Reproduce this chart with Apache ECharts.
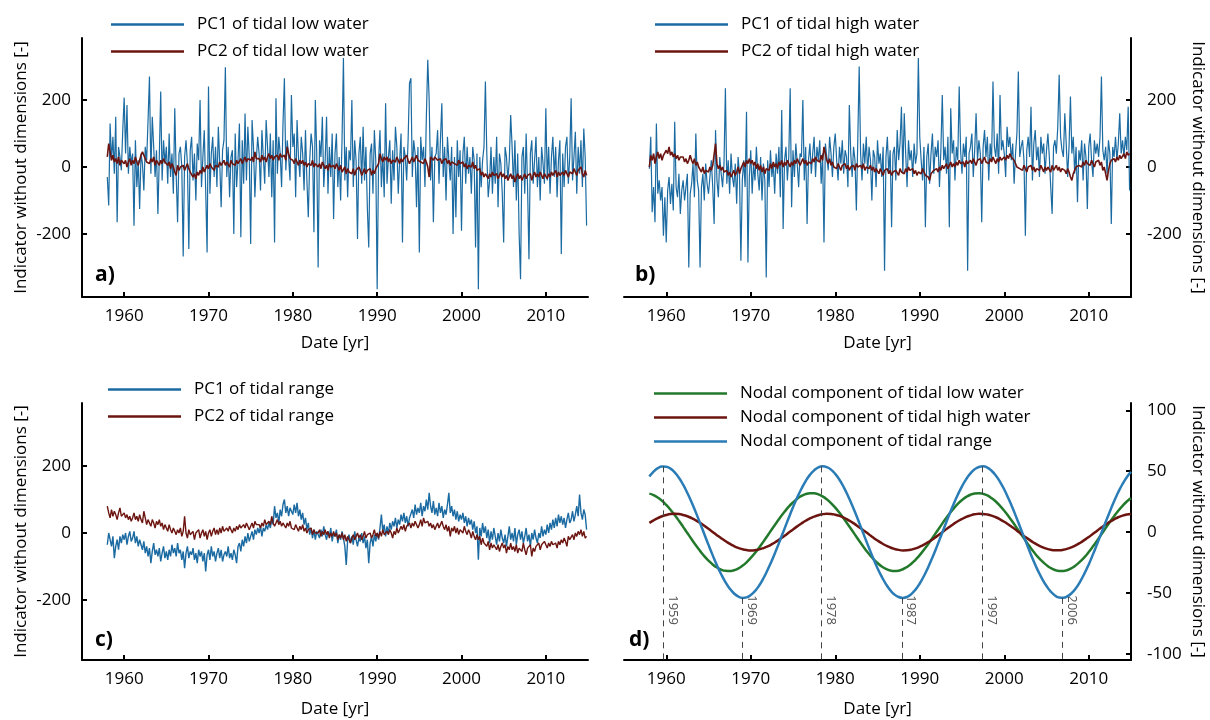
<!DOCTYPE html>
<html><head><meta charset="utf-8">
<script src="https://cdn.jsdelivr.net/npm/echarts@6/dist/echarts.min.js"></script>
<style>html,body{margin:0;padding:0;background:#fff}#c{width:1210px;height:720px}</style>
</head><body><div id="c"></div>
<script>
// ---- time grid of the monthly-like series (6 samples / year from 1958) ----
const START_YEAR = 1958;
const PER_YEAR = 6;

// a) tidal low water
const lowPC1 = [
 -30,-115,130,20,90,-20, 150,-165,60,30,-10,110, 207,40,185,-20,60,10, 40,-175,80,-60,20,-125,
 40,10,-70,60,20,140, 270,-20,150,60,-30,50, -140,30,225,-40,80,10, 60,-50,100,-30,40,-80,
 175,-20,-165,40,60,0, -267,30,80,10,-245,50, 90,-40,40,-100,70,20, 200,-60,30,110,-70,-255,
 240,-80,40,90,-30,60, -60,120,10,-120,50,80, 298,-30,60,-90,30,50, -200,100,-60,20,130,-210,
 80,-50,160,-40,120,30, -230,140,60,-90,20,90, 40,-70,110,30,-50,140, 60,-30,100,-90,80,-225,
 205,-20,90,40,-60,130, 265,-10,80,30,-40,215, 60,100,-90,140,30,-30, 90,40,-70,110,-40,-150,
 20,100,60,-195,200,40, -300,80,30,150,-60,20, 150,-80,60,-30,100,-155, 40,100,-60,30,-100,80,
 325,-40,60,-90,50,20, 200,-60,80,20,-215,40, 90,-50,120,-40,60,-120, -240,40,70,-80,110,20,
 -365,20,110,-60,40,-90, 190,-50,30,80,-110,50, -40,120,60,-80,20,100, -225,60,30,-40,80,250,
 265,-30,80,40,-120,60, -255,90,20,60,-60,150, 320,200,-40,60,-165,30, 40,110,-50,80,190,-30,
 60,-100,90,20,-40,60, -200,30,-150,80,-30,50, -190,40,90,-50,60,-20, 30,-80,60,20,-240,40,
 -365,30,-60,20,60,255, 40,-90,-40,60,-80,30, -50,90,-120,40,10,-80, -225,60,30,-40,20,155,
 60,-60,80,-100,40,-200, -335,30,60,-80,100,-60, -275,40,80,-50,20,90, -60,30,-100,60,10,-50,
 175,-40,60,-80,30,90, -30,60,-90,20,80,-260, 40,-60,60,90,-50,30, 205,-40,30,105,-80,60,
 -20,80,-60,115,30,-175
];
const lowPC2 = [
 30,70,45,20,35,15, 25,10,30,5,20,15, 10,20,0,15,25,5, 20,10,30,15,5,20,
 35,45,40,25,15,20, 10,25,15,30,5,20, 15,5,20,10,25,15, 20,5,15,-5,10,0,
 -15,-25,5,-10,0,-5, 5,-10,0,10,-5,-15, -10,-30,-20,-35,-15,-25, -10,-20,0,-15,-5,5,
 -5,10,0,5,-10,5, 10,0,15,5,10,20, 5,15,10,0,20,10, 15,5,20,10,15,25,
 10,20,30,15,25,20, 20,30,15,45,25,20, 25,15,35,20,30,15, 30,40,25,35,20,30,
 25,35,20,40,30,25, 35,20,60,40,25,30, 20,10,25,15,5,20, 10,20,5,15,0,10,
 15,5,20,0,10,5, 0,10,-5,15,5,-5, 5,-10,10,0,-5,5, -5,10,0,-10,5,-15,
 -10,0,-20,-5,-15,-10, -20,-5,-25,-10,-15,0, -10,-25,-15,-5,-20,-10, -15,-5,-25,-10,-20,-5,
 -10,10,40,25,15,30, 20,30,15,25,10,20, 25,15,30,20,10,25, 15,25,20,35,20,10,
 20,30,15,25,35,20, 25,15,20,10,25,15, 0,-30,30,25,20,30, 25,20,15,25,10,20,
 15,25,10,20,5,15, 20,10,15,5,20,10, 5,15,0,10,-5,5, 10,0,15,-5,5,-10,
 -15,-5,-25,-15,-30,-20, -25,-35,-20,-30,-15,-25, -30,-20,-35,-25,-15,-30, -20,-35,-25,-40,-30,-20,
 -35,-25,-45,-30,-20,-35, -25,-40,-30,-20,-35,-25, -30,-20,-40,-25,-15,-30, -20,-30,-15,-25,-35,-20,
 -25,-35,-20,-30,-15,-25, -20,-10,-30,-15,-25,-20, -15,-25,-10,-20,-30,-15, -10,-20,-5,-15,-25,-10,
 -15,0,-20,-30,-10,-25
];

// b) tidal high water
const highPC1 = [
 -5,90,-135,-60,-165,130, -80,-40,-100,-60,-205,-90, -225,-70,-30,-110,-50,-130, 135,-60,-90,-20,-140,-70,
 -40,-100,-60,-20,-300,-80, -50,10,-90,100,-40,-70, -300,-60,-20,-100,10,-50, -80,-30,20,-60,-170,110,
 -40,-90,30,-20,-60,10, 235,-50,20,-80,40,-30, -60,10,-110,30,-20,-280, -40,20,-60,165,-285,-30,
 50,-80,10,-40,60,-20, -70,30,-100,10,-40,-330, 20,-60,50,-30,10,-80, 40,-20,60,-90,170,-185,
 20,60,-40,30,235,-120, 50,-30,70,10,-60,40, 30,200,-40,60,-170,20, 70,-20,40,90,-30,60,
 20,80,-50,40,-225,70, 30,-10,90,40,-30,60, 100,20,-40,60,10,80, -20,50,30,-60,185,40,
 -30,60,20,-130,80,300, 40,-40,70,10,90,-20, 60,20,-100,50,30,-60, 80,10,40,-30,60,-310,
 30,90,-20,50,-180,40, 60,-40,110,20,70,180, -20,160,40,-60,80,20, 50,-30,70,10,40,325,
 90,20,-40,60,-180,30, 70,-50,40,100,-20,60, 30,80,-60,50,215,20, 60,-20,90,-180,175,40,
 80,-40,60,20,240,50, -20,70,30,90,-310,40, 60,100,-30,50,160,20, 80,40,-165,60,110,30,
 90,-40,70,20,255,60, 30,100,-20,215,50,80, 40,-30,120,60,90,20, 70,-50,40,100,285,30,
 60,80,20,-205,50,90, 30,180,-40,70,110,20, 60,-30,90,40,70,-20, 50,100,30,-60,-140,60,
 80,40,120,275,90,50, 30,160,70,-30,60,210, 40,90,-20,60,-105,50, 20,80,-40,70,30,-125,
 60,100,20,-30,80,40, 70,30,90,270,50,20, 60,-20,80,40,-170,60, 30,90,20,70,160,40,
 80,30,90,50,180,-70
];
const highPC2 = [
 0,35,20,40,10,30, 45,25,40,20,35,30, 50,40,60,35,45,30, 40,25,35,20,30,25,
 30,15,25,10,20,35, 20,10,25,5,15,0, -5,-15,0,-20,-10,-5, -15,0,-10,5,10,70,
 10,-5,5,-10,0,-15, -20,-10,-25,-15,-30,-20, -10,-25,-15,0,-20,-5, 5,15,0,20,10,25,
 10,20,5,15,-5,10, -10,5,-15,0,-20,-5, 0,-10,10,-5,15,0, 10,-5,15,5,20,0,
 15,5,20,10,0,15, 5,20,10,25,15,5, 15,25,10,20,5,15, 20,10,25,15,30,20,
 25,15,35,20,60,40, 20,10,25,5,15,0, 5,-5,10,0,-10,5, 0,10,-5,5,-10,0,
 -5,5,-10,10,0,-5, 5,-5,10,-10,0,5, -5,5,-10,0,-15,-5, -10,-20,-5,-15,-25,-10,
 -15,-5,-20,-10,-25,-15, -20,-10,-15,-25,-5,-15, -10,-20,-5,-15,0,-10, -15,-5,-20,-10,-25,-15,
 -10,-20,-5,-15,-25,-20, -30,-40,-20,-25,-10,-15, -5,-15,0,-10,5,-5, 0,10,-5,5,15,0,
 10,0,15,5,20,10, 5,15,0,20,10,15, 20,10,25,15,5,20, 15,25,10,20,30,15,
 20,10,25,15,30,20, 10,25,15,30,20,25, 30,20,35,25,40,30, 35,20,10,0,5,-5,
 0,-10,5,-5,-15,0, -5,5,-10,0,-15,-5, 0,-10,5,-5,-15,0, -10,0,-5,-15,5,-10,
 -5,5,-10,0,-15,-5, 0,-10,-20,-5,-15,-30, -40,-20,-10,0,-5,5, 10,0,15,5,20,10,
 15,5,20,10,0,15, 10,20,5,15,-10,0, -20,-40,-10,10,20,15, 25,15,30,20,35,25,
 30,40,25,45,35,40
];

// c) tidal range
const rangePC1 = [
 -35,0,-20,-40,-10,-75, -40,-20,-50,-10,-30,-5, -20,0,-35,-10,5,-25, -15,5,-30,-10,-40,-20,
 -35,-50,-25,-60,-40,-70, -45,-90,-55,-30,-65,-50, -70,-45,-85,-60,-40,-75, -55,-80,-50,-70,-35,-60,
 -45,-70,-30,-60,-50,-80, -55,-105,-60,-40,-75,-55, -65,-45,-80,-60,-90,-50, -70,-55,-85,-60,-115,-65,
 -50,-80,-40,-70,-55,-85, -60,-45,-75,-50,-85,-65, -55,-70,-40,-75,-60,-80, -50,-65,-90,-40,-30,-55,
 -20,-40,-10,-30,0,-25, -10,5,-20,10,-5,15, 0,20,-10,15,5,25, 10,30,15,40,25,80,
 45,60,30,70,50,85, 100,60,80,50,75,65, 55,85,60,90,50,70, 40,60,25,45,10,30,
 -5,15,-15,10,-20,5, 0,-15,10,-10,20,-5, -20,5,-10,15,-25,0, -10,10,-30,-5,-20,5,
 -15,-40,-95,-20,-5,-30, -10,-35,5,-20,-40,-15, -25,0,-30,-10,-45,-20, -90,-30,-10,-40,-5,-25,
 0,-20,15,55,5,25, -10,20,0,30,10,35, 20,45,15,40,25,55, 35,60,30,50,20,45,
 40,70,45,85,55,75, 60,90,50,80,65,100, 70,120,80,60,95,55, 75,50,90,60,80,45,
 70,55,85,120,60,80, 50,70,40,65,35,55, 40,60,30,50,20,45, 25,40,10,35,0,20,
 -80,15,-10,30,0,20, -15,10,-30,5,-20,15, -10,-35,0,-25,10,-15, -30,-5,-40,-10,20,-20,
 0,-25,15,-35,-5,10, -20,5,-30,-10,15,-25, -5,-40,0,-20,10,-15, -30,0,-15,20,-10,10,
 -5,25,0,30,10,40, 15,45,20,55,30,50, 25,45,15,40,60,30, 40,65,35,55,80,50,
 115,60,40,70,55,10
];
const rangePC2 = [
 80,60,45,70,50,65, 55,40,60,75,50,45, 60,45,55,40,50,35, 45,60,40,50,35,55,
 40,30,65,45,25,40, 35,20,40,30,15,35, 25,40,20,30,10,25, 20,5,25,10,0,15,
 5,-5,10,0,15,-10, 5,50,0,-15,10,-5, -10,5,-20,0,-5,10, -15,0,10,-10,5,-20,
 0,10,-10,5,15,-5, 10,-5,15,0,20,5, 0,15,5,20,10,0, 15,5,20,10,25,15,
 10,25,15,30,20,10, 20,30,15,35,25,20, 25,15,30,20,40,25, 20,35,25,50,30,20,
 30,40,25,35,20,30, 25,15,30,20,35,15, 20,10,25,15,5,20, 10,25,5,15,0,10,
 5,15,-5,10,0,5, 0,10,-10,5,-5,10, -5,5,-15,0,-10,5, -10,0,-20,-5,-15,0,
 -20,-5,-25,-10,-15,-30, -15,-5,-20,-10,0,-15, -5,-20,-10,5,-15,-5, -10,0,-15,-5,10,-10,
 0,-15,5,-10,10,-5, -10,5,-5,10,0,-15, 5,-5,15,0,10,20, 10,25,5,20,15,30,
 15,30,20,35,25,15, 25,40,20,45,30,25, 35,20,30,15,25,10, 20,30,15,25,35,20,
 10,25,5,20,-10,15, 5,20,0,15,-5,10, 15,0,20,5,-5,10, 0,-15,5,-10,-20,-5,
 -20,-10,-35,-15,-30,-25, -40,-25,-50,-30,-45,-35, -30,-50,-35,-55,-40,-30, -45,-35,-60,-40,-50,-30,
 -50,-40,-55,-35,-60,-45, -40,-55,-30,-50,-65,-45, -50,-35,-70,-45,-55,-40, -45,-30,-50,-35,-40,-25,
 -35,-45,-30,-40,-25,-35, -40,-30,-45,-25,-35,-20, -30,-15,-25,-40,-10,-20, -15,-5,-20,0,-10,5,
 -5,10,-10,5,-15,-10
];

// d) nodal components, half-yearly readings 1958.0 .. 2015.0
const NODAL_START = 1958;
const NODAL_STEP = 0.5;
const nodalLow = [
 31.6,30.4,28.4,25.7,22.3,18.4,14.0,9.3,4.3,-0.8,-5.8,-10.8,-15.4,-19.7,-23.4,-26.6,-29.1,-30.8,-31.8,-32.0,
 -31.3,-29.9,-27.7,-24.8,-21.2,-17.2,-12.7,-7.8,-2.8,2.3,7.3,12.2,16.7,20.9,24.4,27.4,29.7,31.2,31.9,31.9,
 31.0,29.3,26.9,23.8,20.1,15.9,11.2,6.3,1.3,-3.8,-8.8,-13.6,-18.0,-22.0,-25.4,-28.2,-30.2,-31.5,-32.0,-31.7,
 -30.5,-28.6,-26.0,-22.7,-18.9,-14.5,-9.8,-4.8,0.3,5.3,10.3,15.0,19.3,23.1,26.3,28.9,30.7,31.7,32.0,31.4,
 30.1,27.9,25.1,21.6,17.6,13.1,8.3,3.3,-1.8,-6.8,-11.7,-16.3,-20.5,-24.1,-27.1,-29.5,-31.1,-31.9,-31.9,-31.1,
 -29.5,-27.1,-24.1,-20.5,-16.3,-11.7,-6.8,-1.8,3.3,8.3,13.1,17.6,21.6,25.1,27.9
];
const nodalHigh = [
 7.6,9.7,11.5,13.0,14.1,14.8,15.0,14.8,14.1,13.0,11.5,9.7,7.6,5.2,2.7,0.1,-2.5,-5.0,-7.3,-9.5,
 -11.4,-12.9,-14.0,-14.7,-15.0,-14.8,-14.2,-13.1,-11.7,-9.9,-7.8,-5.5,-3.0,-0.4,2.2,4.7,7.1,9.3,11.2,12.7,
 13.9,14.7,15.0,14.9,14.3,13.3,11.9,10.1,8.0,5.7,3.2,0.7,-1.9,-4.5,-6.9,-9.1,-11.0,-12.6,-13.8,-14.6,
 -15.0,-14.9,-14.4,-13.4,-12.0,-10.3,-8.2,-6.0,-3.5,-0.9,1.7,4.2,6.7,8.9,10.8,12.5,13.7,14.6,15.0,14.9,
 14.4,13.5,12.2,10.5,8.5,6.2,3.7,1.2,-1.4,-4.0,-6.4,-8.7,-10.7,-12.3,-13.6,-14.5,-14.9,-14.9,-14.5,-13.6,
 -12.3,-10.7,-8.7,-6.4,-4.0,-1.4,1.2,3.7,6.2,8.5,10.5,12.2,13.5,14.4,14.9
];
const nodalRange = [
 45.6,49.7,52.5,53.9,53.7,52.1,49.0,44.6,38.9,32.1,24.5,16.2,7.4,-1.6,-10.5,-19.1,-27.3,-34.6,-41.0,-46.3,
 -50.2,-52.8,-54.0,-53.6,-51.7,-48.4,-43.8,-37.9,-30.9,-23.3,-14.9,-6.1,2.9,11.8,20.4,28.4,35.6,41.9,47.0,50.7,
 53.1,54.0,53.4,51.3,47.8,43.0,37.0,29.9,22.1,13.6,4.7,-4.3,-13.1,-21.6,-29.6,-36.6,-42.7,-47.6,-51.2,-53.3,
 -54.0,-53.2,-50.9,-47.2,-42.2,-36.0,-28.8,-20.8,-12.3,-3.4,5.6,14.4,22.9,30.7,37.6,43.5,48.2,51.6,53.5,54.0,
 52.9,50.4,46.5,41.3,35.0,27.6,19.6,10.9,2.0,-6.9,-15.7,-24.1,-31.8,-38.6,-44.3,-48.8,-52.0,-53.7,-53.9,-52.6,
 -49.9,-45.8,-40.4,-33.9,-26.5,-18.3,-9.6,-0.7,8.3,17.0,25.3,32.9,39.5,45.1,49.4
];
// extrema of the tidal-range component marked by dashed lines
const extremaYears = [1959.7, 1969.0, 1978.4, 1987.9, 1997.4, 2006.9];
const extremaValues = [54, -54, 54, -54, 54, -54];
const extremaLabels = ['1959', '1969', '1978', '1987', '1997', '2006'];
const EXTREMA_LABEL_LEVEL = -64;

// axes
const xTicks = [1960, 1970, 1980, 1990, 2000, 2010];
const yTicksPC = [-200, 0, 200];
const yTicksNodal = [-100, -50, 0, 50, 100];
const X_RANGE = [1955, 2015];
const Y_RANGE_A = [-388, 385];
const Y_RANGE_C = [-379, 388];
const Y_RANGE_D = [-105, 106];

const FONT = 'Open Sans';
const BLUE = '#1b6ba2', RED = '#6c1510', GREEN = '#22792b', NBLUE = '#2a7cb6';

const pairs = arr => arr.map((v, i) => [START_YEAR + i / PER_YEAR, v]);
const halfYearly = arr => arr.map((v, i) => [NODAL_START + i * NODAL_STEP, v]);

function xAxis(gi, nameGap) {
  return {
    type: 'value', gridIndex: gi, min: X_RANGE[0], max: X_RANGE[1],
    name: 'Date [yr]', nameLocation: 'middle', nameGap: nameGap,
    nameTextStyle: {fontFamily: FONT, fontSize: 17, color: '#000'},
    axisLine: {show: true, onZero: false, lineStyle: {color: '#000', width: 2}},
    axisTick: {show: true, inside: true, length: 5, customValues: xTicks, lineStyle: {color: '#000', width: 2}},
    axisLabel: {customValues: xTicks, fontFamily: FONT, fontSize: 17, color: '#000', margin: 11, formatter: v => String(v)},
    splitLine: {show: false}
  };
}
function yAxis(gi, pos, range, ticks) {
  const right = pos === 'right';
  return {
    type: 'value', gridIndex: gi, position: pos, min: range[0], max: range[1],
    name: 'Indicator without dimensions [-]', nameLocation: 'middle',
    nameGap: right ? 58 : 52, nameRotate: right ? -90 : 90,
    nameTextStyle: {fontFamily: FONT, fontSize: 17, color: '#000'},
    axisLine: {show: true, onZero: false, lineStyle: {color: '#000', width: 2}},
    axisTick: {show: true, inside: true, length: 5, customValues: ticks, lineStyle: {color: '#000', width: 2}},
    axisLabel: {customValues: ticks, fontFamily: FONT, fontSize: 17, color: '#000', margin: right ? 16 : 11,
      align: right ? 'left' : 'right', formatter: v => String(v)},
    splitLine: {show: false}
  };
}
function legend(names, left, top, gap) {
  return {
    data: names, orient: 'vertical', left: left, top: top, padding: 0,
    icon: 'rect', itemWidth: 73, itemHeight: 2.5, itemGap: gap,
    textStyle: {fontFamily: FONT, fontSize: 17, color: '#000', padding: [0, 0, 0, 8]},
    selectedMode: false
  };
}
function line(name, data, color, width, gi) {
  return {
    type: 'line', name: name, data: data, xAxisIndex: gi, yAxisIndex: gi,
    symbol: 'none', showSymbol: false, sampling: null, smooth: false,
    lineStyle: {color: color, width: width}, itemStyle: {color: color},
    emphasis: {disabled: true}, silent: true
  };
}

const nodalRangeSeries = line('Nodal component of tidal range', halfYearly(nodalRange), NBLUE, 2.5, 3);
nodalRangeSeries.smooth = true;
nodalRangeSeries.markLine = {
  silent: true, symbol: 'none', animation: false,
  label: {show: false},
  lineStyle: {color: '#444', width: 1, type: [6, 5]},
  data: extremaYears.map((x, i) => [{coord: [x, extremaValues[i]]}, {coord: [x, Y_RANGE_D[0]]}])
};
const nLow = line('Nodal component of tidal low water', halfYearly(nodalLow), GREEN, 2.5, 3); nLow.smooth = true;
const nHigh = line('Nodal component of tidal high water', halfYearly(nodalHigh), RED, 2.5, 3); nHigh.smooth = true;

const option = {
  animation: false,
  backgroundColor: '#fff',
  textStyle: {fontFamily: FONT},
  grid: [
    {left: 82, top: 38, width: 506, height: 259},
    {left: 624, top: 38, width: 507, height: 259},
    {left: 82, top: 403, width: 506, height: 257},
    {left: 624, top: 403, width: 507, height: 257}
  ],
  xAxis: [xAxis(0, 38), xAxis(1, 38), xAxis(2, 41), xAxis(3, 41)],
  yAxis: [
    yAxis(0, 'left', Y_RANGE_A, yTicksPC),
    yAxis(1, 'right', Y_RANGE_A, yTicksPC),
    yAxis(2, 'left', Y_RANGE_C, yTicksPC),
    yAxis(3, 'right', Y_RANGE_D, yTicksNodal)
  ],
  legend: [
    legend(['PC1 of tidal low water', 'PC2 of tidal low water'], 111, 16, 10),
    legend(['PC1 of tidal high water', 'PC2 of tidal high water'], 655, 16, 10),
    legend(['PC1 of tidal range', 'PC2 of tidal range'], 108, 381, 10),
    legend(['Nodal component of tidal low water', 'Nodal component of tidal high water', 'Nodal component of tidal range'], 654, 385, 7)
  ],
  graphic: [
    {type: 'text', left: 95, top: 265, style: {text: 'a)', font: 'bold 21px "Open Sans"', fill: '#000'}},
    {type: 'text', left: 635, top: 265, style: {text: 'b)', font: 'bold 21px "Open Sans"', fill: '#000'}},
    {type: 'text', left: 95, top: 630, style: {text: 'c)', font: 'bold 21px "Open Sans"', fill: '#000'}},
    {type: 'text', left: 629, top: 630, style: {text: 'd)', font: 'bold 21px "Open Sans"', fill: '#000'}}
  ],
  series: [
    line('PC1 of tidal low water', pairs(lowPC1), BLUE, 1.2, 0),
    line('PC2 of tidal low water', pairs(lowPC2), RED, 1.6, 0),
    line('PC1 of tidal high water', pairs(highPC1), BLUE, 1.2, 1),
    line('PC2 of tidal high water', pairs(highPC2), RED, 1.6, 1),
    line('PC1 of tidal range', pairs(rangePC1), BLUE, 1.4, 2),
    line('PC2 of tidal range', pairs(rangePC2), RED, 1.4, 2),
    nLow, nHigh, nodalRangeSeries,
    {
      type: 'scatter', xAxisIndex: 3, yAxisIndex: 3, silent: true,
      symbol: 'circle', symbolSize: 0,
      data: extremaYears.map(x => [x, EXTREMA_LABEL_LEVEL]),
      label: {show: true, position: 'inside', offset: [0, -9], rotate: -90,
        fontFamily: FONT, fontSize: 13, color: '#222',
        formatter: p => extremaLabels[p.dataIndex]}
    }
  ]
};
const chart = echarts.init(document.getElementById('c'), null, {renderer: 'canvas', width: 1210, height: 720});
chart.setOption(option);
</script>
</body></html>
